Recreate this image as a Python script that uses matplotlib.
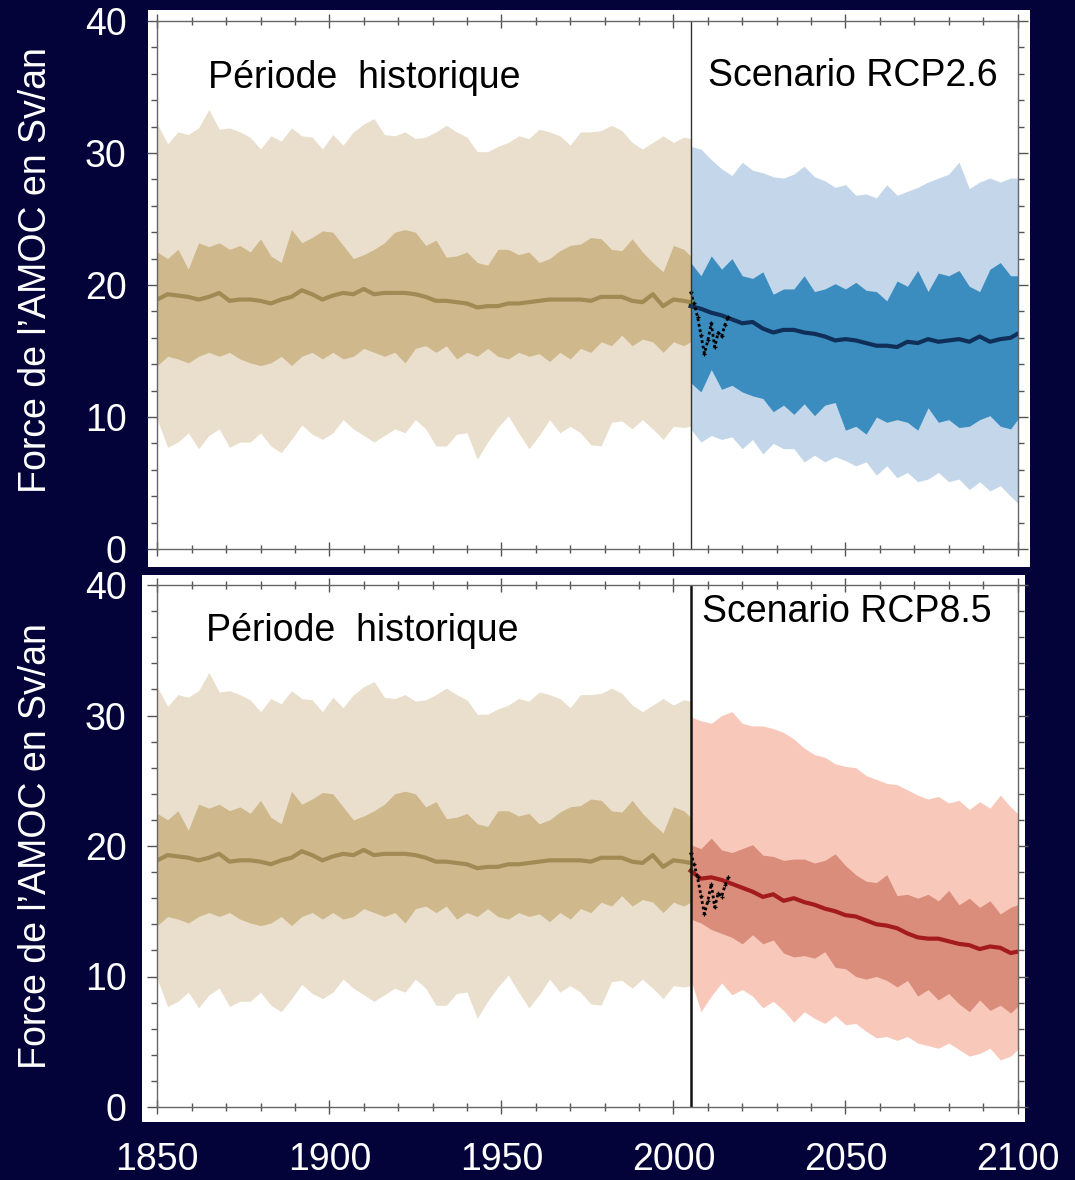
import matplotlib
matplotlib.use('Agg')
import matplotlib.pyplot as plt
from matplotlib.ticker import MultipleLocator
from matplotlib.patches import Rectangle

plt.rcParams['font.family'] = ['Liberation Sans', 'DejaVu Sans']

# ---------------- data ----------------
hist_years = [1850, 1853, 1856, 1859, 1862, 1865, 1868, 1871, 1874, 1877,
              1880, 1883, 1886, 1889, 1892, 1895, 1898, 1901, 1904, 1907,
              1910, 1913, 1916, 1919, 1922, 1925, 1928, 1931, 1934, 1937,
              1940, 1943, 1946, 1949, 1952, 1955, 1958, 1961, 1964, 1967,
              1970, 1973, 1976, 1979, 1982, 1985, 1988, 1991, 1994, 1997,
              2000, 2003, 2005]
hist_hi_outer = [32.2, 30.7, 31.6, 31.4, 31.9, 33.3, 31.8, 31.9, 31.6, 31.2,
                 30.3, 31.3, 30.9, 31.9, 31.3, 31.2, 30.3, 31.4, 30.6, 31.6,
                 32.2, 32.6, 31.4, 31.3, 31.6, 31.1, 31.2, 31.6, 32.1, 31.6,
                 31.2, 30.1, 30.1, 30.5, 30.8, 31.3, 31.1, 31.8, 31.6, 31.3,
                 30.6, 31.6, 31.6, 31.7, 32.1, 31.7, 30.8, 30.3, 30.8, 31.3,
                 30.8, 31.2, 31.1]
hist_hi_inner = [22.5, 22.0, 22.7, 21.2, 23.2, 22.9, 23.2, 22.7, 23.0, 22.5,
                 23.5, 22.2, 21.7, 24.2, 23.2, 23.6, 24.1, 24.0, 23.0, 22.0,
                 22.3, 22.7, 23.2, 24.0, 24.2, 24.0, 23.0, 23.4, 22.1, 22.2,
                 22.5, 21.7, 21.5, 22.7, 22.7, 22.3, 22.5, 21.7, 22.0, 22.6,
                 23.0, 23.1, 23.6, 23.5, 22.7, 22.6, 23.5, 22.5, 21.7, 21.0,
                 23.0, 22.7, 22.2]
hist_mean = [18.9, 19.3, 19.2, 19.1, 18.9, 19.1, 19.4, 18.8, 18.9, 18.9,
             18.8, 18.6, 18.9, 19.1, 19.6, 19.3, 18.9, 19.2, 19.4, 19.3,
             19.7, 19.3, 19.4, 19.4, 19.4, 19.3, 19.1, 18.8, 18.8, 18.7,
             18.6, 18.3, 18.4, 18.4, 18.6, 18.6, 18.7, 18.8, 18.9, 18.9,
             18.9, 18.9, 18.8, 19.1, 19.1, 19.1, 18.8, 18.7, 19.3, 18.4,
             18.9, 18.8, 18.7]
hist_lo_inner = [13.9, 14.6, 14.4, 14.1, 14.6, 14.9, 14.6, 14.9, 14.4, 14.1,
                 13.9, 14.1, 14.6, 13.9, 14.6, 14.9, 14.4, 14.9, 14.4, 14.6,
                 15.2, 14.9, 14.6, 14.9, 14.1, 15.2, 15.4, 14.9, 15.4, 14.4,
                 14.9, 14.6, 15.2, 14.6, 14.4, 14.9, 14.6, 14.8, 14.2, 14.9,
                 14.4, 15.2, 14.9, 15.7, 15.4, 16.2, 15.4, 15.9, 15.7, 14.9,
                 15.7, 15.4, 15.7]
hist_lo_outer = [9.8, 7.7, 8.1, 8.8, 7.6, 8.6, 9.1, 7.7, 8.1, 8.1,
                 8.8, 7.8, 7.3, 8.3, 9.4, 8.7, 8.3, 8.8, 9.8, 9.1,
                 8.6, 8.1, 8.6, 9.1, 8.8, 9.8, 9.1, 7.8, 7.8, 8.7,
                 8.8, 6.8, 8.1, 9.2, 10.1, 8.8, 7.6, 8.6, 9.8, 8.8,
                 9.3, 8.8, 7.9, 7.8, 9.6, 9.7, 9.1, 9.8, 9.1, 8.3,
                 9.3, 9.2, 9.3]

fut_years = [2005, 2008, 2011, 2014, 2017, 2020, 2023, 2026, 2029, 2032,
             2035, 2038, 2041, 2044, 2047, 2050, 2053, 2056, 2059, 2062,
             2065, 2068, 2071, 2074, 2077, 2080, 2083, 2086, 2089, 2092,
             2095, 2098, 2100]

rcp26_hi_outer = [30.5, 30.3, 29.5, 28.8, 28.3, 29.3, 28.7, 28.5, 28.2, 28.1,
                  28.4, 29.0, 28.2, 27.9, 27.4, 27.6, 26.8, 26.9, 26.6, 27.6,
                  26.8, 27.1, 27.4, 27.8, 28.1, 28.4, 29.3, 27.3, 27.8, 28.1,
                  27.8, 28.1, 28.1]
rcp26_hi_inner = [21.7, 20.7, 22.2, 21.2, 22.0, 20.7, 20.5, 21.0, 19.3, 19.7,
                  19.7, 20.7, 19.5, 19.7, 20.1, 19.7, 20.2, 19.6, 19.5, 18.8,
                  20.3, 19.9, 21.1, 19.5, 20.9, 20.7, 21.1, 19.9, 19.5, 21.2,
                  21.7, 20.7, 20.7]
rcp26_mean = [18.4, 18.2, 17.9, 17.7, 17.4, 17.1, 17.2, 16.7, 16.4, 16.6,
              16.6, 16.4, 16.3, 16.1, 15.8, 15.9, 15.8, 15.6, 15.4, 15.4,
              15.3, 15.7, 15.6, 15.9, 15.7, 15.8, 15.9, 15.7, 16.1, 15.7,
              15.9, 16.0, 16.3]
rcp26_lo_inner = [12.6, 11.9, 13.6, 12.1, 12.4, 11.9, 11.6, 11.4, 10.4, 10.9,
                  10.2, 11.0, 10.1, 10.9, 11.1, 9.0, 9.3, 8.7, 10.0, 9.6,
                  9.8, 9.6, 9.0, 10.7, 9.6, 9.8, 9.2, 9.3, 9.8, 10.1,
                  9.3, 9.1, 9.8]
rcp26_lo_outer = [9.1, 8.1, 8.6, 8.3, 8.5, 7.6, 8.3, 7.2, 8.0, 7.6,
                  7.6, 6.6, 7.1, 6.6, 7.0, 6.7, 6.3, 6.6, 5.6, 6.3,
                  5.4, 5.8, 5.1, 5.3, 5.8, 5.1, 5.3, 4.5, 5.1, 4.4,
                  4.8, 4.0, 3.5]

rcp85_hi_outer = [29.9, 29.6, 29.4, 30.0, 30.3, 29.4, 29.2, 29.2, 29.0, 28.7,
                  28.2, 27.5, 27.0, 26.8, 26.3, 26.1, 26.0, 25.4, 25.1, 24.8,
                  24.7, 24.3, 23.9, 23.6, 23.8, 23.3, 23.5, 22.8, 23.4, 22.9,
                  23.9, 23.0, 22.5]
rcp85_hi_inner = [20.1, 19.8, 20.6, 19.7, 19.5, 19.8, 20.1, 19.3, 19.2, 18.9,
                  19.0, 19.0, 18.7, 18.9, 19.4, 18.5, 17.8, 17.3, 17.2, 17.8,
                  16.2, 16.3, 16.0, 16.3, 15.8, 16.6, 15.5, 16.0, 15.3, 15.8,
                  14.8, 15.3, 15.5]
rcp85_mean = [18.1, 17.5, 17.6, 17.4, 17.1, 16.8, 16.5, 16.1, 16.3, 15.8,
              16.0, 15.7, 15.5, 15.2, 15.0, 14.7, 14.6, 14.3, 14.0, 13.9,
              13.7, 13.3, 13.0, 12.9, 12.9, 12.7, 12.5, 12.4, 12.1, 12.3,
              12.2, 11.8, 11.9]
rcp85_lo_inner = [14.4, 14.1, 13.6, 13.3, 13.0, 12.5, 13.2, 12.5, 12.8, 11.8,
                  11.5, 11.6, 11.4, 11.9, 10.7, 10.6, 10.0, 9.8, 10.0, 9.7,
                  9.2, 9.7, 8.5, 9.0, 8.2, 8.7, 7.9, 7.3, 8.2, 7.4,
                  7.8, 7.2, 7.7]
rcp85_lo_outer = [9.8, 7.3, 8.5, 9.5, 8.6, 9.0, 8.5, 7.6, 8.1, 7.4,
                  6.5, 7.3, 6.8, 6.4, 7.0, 6.3, 6.4, 5.8, 5.3, 5.4,
                  5.1, 5.4, 4.9, 4.7, 4.5, 4.9, 4.4, 3.9, 4.1, 4.5,
                  3.6, 3.9, 4.4]

obs_years = [2005, 2006, 2007, 2008, 2009, 2010, 2011, 2012, 2013, 2014, 2015, 2016]
obs_values = [19.5, 18.6, 17.6, 16.2, 14.8, 15.8, 17.1, 15.3, 16.4, 16.1, 17.0, 17.6]

y_ticks = [0, 10, 20, 30, 40]
x_ticks = [1850, 1900, 1950, 2000, 2050, 2100]
ylabel = "Force de l\u2019AMOC en Sv/an"
hist_label = "P\u00e9riode  historique"

# ---------------- style ----------------
BG = '#03033a'
HIST_OUT, HIST_IN, HIST_LINE = '#e9dfcc', '#cfb88c', '#a28a55'
B_OUT, B_IN, B_LINE = '#c3d6ea', '#3b8dc0', '#0f2f58'
R_OUT, R_IN, R_LINE = '#f8c9bb', '#da8d7b', '#a31b1b'

W, H = 1075, 1180
fig = plt.figure(figsize=(W / 100, H / 100), dpi=100, facecolor=BG)


def fx(px):
    return px / W


def fy(py):
    return 1 - py / H


panels = [
    dict(patch=(148, 10, 1030, 567), ax=(157.3, 21, 1017.5, 549),
         scen="Scenario RCP2.6", cols=(B_OUT, B_IN, B_LINE),
         data=(rcp26_hi_outer, rcp26_hi_inner, rcp26_mean, rcp26_lo_inner, rcp26_lo_outer),
         hist_txt=(1864.7, 34.9), scen_txt=(2010.1, 35.1), vlw=1.0, vcol='#333333',
         ylab_y=270, xlabels=False),
    dict(patch=(142, 575, 1025, 1122), ax=(157.3, 585, 1017.5, 1107),
         scen="Scenario RCP8.5", cols=(R_OUT, R_IN, R_LINE),
         data=(rcp85_hi_outer, rcp85_hi_inner, rcp85_mean, rcp85_lo_inner, rcp85_lo_outer),
         hist_txt=(1864.2, 35.7), scen_txt=(2008.3, 37.2), vlw=1.8, vcol='#111111',
         ylab_y=846, xlabels=True),
]

for p in panels:
    x0, y0, x1, y1 = p['patch']
    fig.patches.append(Rectangle((fx(x0), fy(y1)), fx(x1 - x0), (y1 - y0) / H,
                                 transform=fig.transFigure, facecolor='white',
                                 edgecolor='none', zorder=0))
    a0, b0, a1, b1 = p['ax']
    ax = fig.add_axes([fx(a0), fy(b1), fx(a1 - a0), (b1 - b0) / H])
    ax.set_facecolor('white')
    ax.set_zorder(1)

    # historical
    ax.fill_between(hist_years, hist_lo_outer, hist_hi_outer, color=HIST_OUT, lw=0, zorder=1)
    ax.fill_between(hist_years, hist_lo_inner, hist_hi_inner, color=HIST_IN, lw=0, zorder=2)
    ax.plot(hist_years, hist_mean, color=HIST_LINE, lw=3, zorder=3)

    # scenario
    c_out, c_in, c_line = p['cols']
    hi_o, hi_i, mean, lo_i, lo_o = p['data']
    ax.fill_between(fut_years, lo_o, hi_o, color=c_out, lw=0, zorder=1)
    ax.fill_between(fut_years, lo_i, hi_i, color=c_in, lw=0, zorder=2)
    ax.plot(fut_years, mean, color=c_line, lw=3, zorder=3)
    ax.plot(obs_years, obs_values, color='black', lw=2, ls=(0, (1, 1)),
            marker='+', ms=3.5, mew=0.9, zorder=4)

    ax.axvline(2005, color=p['vcol'], lw=p['vlw'], zorder=5)

    ax.text(p['hist_txt'][0], p['hist_txt'][1], hist_label, fontsize=27,
            color='black', ha='left', va='baseline', zorder=6)
    ax.text(p['scen_txt'][0], p['scen_txt'][1], p['scen'], fontsize=27,
            color='black', ha='left', va='baseline', zorder=6)

    ax.set_xlim(1850, 2100)
    ax.set_ylim(0, 40)
    ax.set_xticks(x_ticks)
    ax.set_yticks(y_ticks)
    ax.xaxis.set_minor_locator(MultipleLocator(10))
    ax.yaxis.set_minor_locator(MultipleLocator(2))
    for s in ax.spines.values():
        s.set_color('#666666')
        s.set_linewidth(1.0)
        s.set_zorder(7)
    ax.tick_params(axis='x', which='both', top=True, bottom=True, direction='inout',
                   color='#555555', width=1)
    ax.tick_params(axis='x', which='major', length=10, labelsize=27,
                   labelcolor='white', pad=20)
    ax.tick_params(axis='x', which='minor', length=6)
    ax.tick_params(axis='y', which='both', left=True, right=True, direction='out',
                   color='#555555', width=1)
    ax.tick_params(axis='y', which='major', length=7, labelsize=27,
                   labelcolor='white', pad=15)
    ax.tick_params(axis='y', which='minor', length=4)
    if not p['xlabels']:
        ax.tick_params(axis='x', labelbottom=False)

    fig.text(fx(36), fy(p['ylab_y']), ylabel, rotation=90, color='white',
             fontsize=27, ha='center', va='center')

fig.savefig('out.png', dpi=100, facecolor=BG)
